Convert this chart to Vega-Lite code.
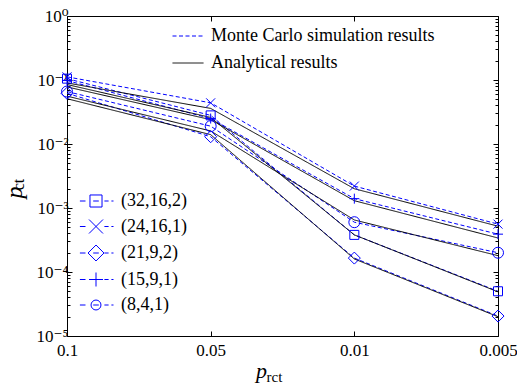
{
  "$schema": "https://vega.github.io/schema/vega-lite/v6.json",
  "width": 431,
  "height": 320,
  "autosize": {"type": "none"},
  "padding": {"left": 67, "top": 16, "right": 19, "bottom": 52},
  "background": "white",
  "config": {
    "view": {"stroke": "black", "strokeWidth": 1},
    "font": "Times New Roman, Liberation Serif, DejaVu Serif, serif",
    "axis": {"grid": false, "domain": false, "tickColor": "black", "labelColor": "black", "titleColor": "black", "titleFontWeight": "normal", "labelFont": "Times New Roman, Liberation Serif, DejaVu Serif, serif", "titleFont": "Times New Roman, Liberation Serif, DejaVu Serif, serif"},
    "legend": {"labelFont": "Times New Roman, Liberation Serif, DejaVu Serif, serif", "labelColor": "black"}
  },
  "data": {
    "values": [
      {"config": "(32,16,2)", "type": "Monte Carlo simulation results", "prct": "0.1", "pct": 0.105},
      {"config": "(32,16,2)", "type": "Monte Carlo simulation results", "prct": "0.05", "pct": 0.028},
      {"config": "(32,16,2)", "type": "Monte Carlo simulation results", "prct": "0.01", "pct": 0.00038},
      {"config": "(32,16,2)", "type": "Monte Carlo simulation results", "prct": "0.005", "pct": 0.00005},
      {"config": "(24,16,1)", "type": "Monte Carlo simulation results", "prct": "0.1", "pct": 0.112},
      {"config": "(24,16,1)", "type": "Monte Carlo simulation results", "prct": "0.05", "pct": 0.044},
      {"config": "(24,16,1)", "type": "Monte Carlo simulation results", "prct": "0.01", "pct": 0.0022},
      {"config": "(24,16,1)", "type": "Monte Carlo simulation results", "prct": "0.005", "pct": 0.00056},
      {"config": "(21,9,2)", "type": "Monte Carlo simulation results", "prct": "0.1", "pct": 0.062},
      {"config": "(21,9,2)", "type": "Monte Carlo simulation results", "prct": "0.05", "pct": 0.013},
      {"config": "(21,9,2)", "type": "Monte Carlo simulation results", "prct": "0.01", "pct": 0.000165},
      {"config": "(21,9,2)", "type": "Monte Carlo simulation results", "prct": "0.005", "pct": 0.0000205},
      {"config": "(15,9,1)", "type": "Monte Carlo simulation results", "prct": "0.1", "pct": 0.098},
      {"config": "(15,9,1)", "type": "Monte Carlo simulation results", "prct": "0.05", "pct": 0.025},
      {"config": "(15,9,1)", "type": "Monte Carlo simulation results", "prct": "0.01", "pct": 0.0014},
      {"config": "(15,9,1)", "type": "Monte Carlo simulation results", "prct": "0.005", "pct": 0.00039},
      {"config": "(8,4,1)", "type": "Monte Carlo simulation results", "prct": "0.1", "pct": 0.066},
      {"config": "(8,4,1)", "type": "Monte Carlo simulation results", "prct": "0.05", "pct": 0.019},
      {"config": "(8,4,1)", "type": "Monte Carlo simulation results", "prct": "0.01", "pct": 0.0006},
      {"config": "(8,4,1)", "type": "Monte Carlo simulation results", "prct": "0.005", "pct": 0.0002},
      {"config": "(32,16,2)", "type": "Analytical results", "prct": "0.1", "pct": 0.085},
      {"config": "(32,16,2)", "type": "Analytical results", "prct": "0.05", "pct": 0.026},
      {"config": "(32,16,2)", "type": "Analytical results", "prct": "0.01", "pct": 0.00038},
      {"config": "(32,16,2)", "type": "Analytical results", "prct": "0.005", "pct": 0.000049},
      {"config": "(24,16,1)", "type": "Analytical results", "prct": "0.1", "pct": 0.09},
      {"config": "(24,16,1)", "type": "Analytical results", "prct": "0.05", "pct": 0.036},
      {"config": "(24,16,1)", "type": "Analytical results", "prct": "0.01", "pct": 0.002},
      {"config": "(24,16,1)", "type": "Analytical results", "prct": "0.005", "pct": 0.00052},
      {"config": "(21,9,2)", "type": "Analytical results", "prct": "0.1", "pct": 0.051},
      {"config": "(21,9,2)", "type": "Analytical results", "prct": "0.05", "pct": 0.014},
      {"config": "(21,9,2)", "type": "Analytical results", "prct": "0.01", "pct": 0.00016},
      {"config": "(21,9,2)", "type": "Analytical results", "prct": "0.005", "pct": 0.00002},
      {"config": "(15,9,1)", "type": "Analytical results", "prct": "0.1", "pct": 0.078},
      {"config": "(15,9,1)", "type": "Analytical results", "prct": "0.05", "pct": 0.024},
      {"config": "(15,9,1)", "type": "Analytical results", "prct": "0.01", "pct": 0.0013},
      {"config": "(15,9,1)", "type": "Analytical results", "prct": "0.005", "pct": 0.00034},
      {"config": "(8,4,1)", "type": "Analytical results", "prct": "0.1", "pct": 0.056},
      {"config": "(8,4,1)", "type": "Analytical results", "prct": "0.05", "pct": 0.016},
      {"config": "(8,4,1)", "type": "Analytical results", "prct": "0.01", "pct": 0.00065},
      {"config": "(8,4,1)", "type": "Analytical results", "prct": "0.005", "pct": 0.00018}
    ]
  },
  "layer": [
    {
      "mark": {"type": "line", "strokeWidth": 1},
      "encoding": {
        "x": {"field": "prct", "type": "ordinal", "scale": {"type": "point", "padding": 0, "domain": ["0.1", "0.05", "0.01", "0.005"]},
          "axis": {"orient": "bottom", "tickSize": -5, "labelFontSize": 17, "labelAngle": 0, "labelPadding": 11,
            "title": "p", "titleFontStyle": "italic", "titleFontSize": 22, "titleX": 194, "titleY": 41, "titleAlign": "center", "titleBaseline": "alphabetic"}},
        "y": {"field": "pct", "type": "quantitative", "scale": {"type": "log", "domain": [0.00001, 1], "nice": false},
          "axis": {"orient": "left", "values": [0.00001, 0.0001, 0.001, 0.01, 0.1, 1], "tickSize": -5, "labelFontSize": 17, "labelPadding": 4,
            "labelExpr": "datum.value >= 0.5 ? '10⁰' : datum.value >= 0.05 ? '10⁻¹' : datum.value >= 0.005 ? '10⁻²' : datum.value >= 0.0005 ? '10⁻³' : datum.value >= 0.00005 ? '10⁻⁴' : '10⁻⁵'",
            "title": "p", "titleFontStyle": "italic", "titleFontSize": 24, "titleAngle": 270, "titleX": -46, "titleY": 176, "titleAlign": "center", "titleBaseline": "alphabetic"}},
        "stroke": {"field": "type", "type": "nominal", "scale": {"domain": ["Monte Carlo simulation results", "Analytical results"], "range": ["#0000ff", "#000000"]},
          "legend": {"orient": "none", "legendX": 105, "legendY": 4, "title": null, "symbolType": "stroke", "symbolSize": 961, "symbolStrokeWidth": 1, "labelFontSize": 18, "labelOffset": 7, "labelLimit": 0, "rowPadding": 2, "padding": 0}},
        "strokeDash": {"field": "type", "type": "nominal", "scale": {"domain": ["Monte Carlo simulation results", "Analytical results"], "range": [[4, 2.5], [1, 0]]},
          "legend": {"orient": "none", "legendX": 105, "legendY": 4, "title": null, "symbolType": "stroke", "symbolSize": 961, "symbolStrokeWidth": 1, "labelFontSize": 18, "labelOffset": 7, "labelLimit": 0, "rowPadding": 2, "padding": 0}},
        "detail": {"field": "config", "type": "nominal"}
      }
    },
    {
      "transform": [{"filter": "datum.type === 'Monte Carlo simulation results'"}],
      "mark": {"type": "point", "filled": false, "color": "#0000ff", "strokeWidth": 1, "size": 100, "opacity": 1},
      "encoding": {
        "x": {"field": "prct", "type": "ordinal", "axis": {"orient": "top", "tickSize": -5, "labels": false, "title": null}},
        "y": {"field": "pct", "type": "quantitative", "axis": {"orient": "right", "values": [0.00001, 0.0001, 0.001, 0.01, 0.1, 1], "tickSize": -5, "labels": false, "title": null}},
        "shape": {"field": "config", "type": "nominal",
          "scale": {"domain": ["(32,16,2)", "(24,16,1)", "(21,9,2)", "(15,9,1)", "(8,4,1)"],
            "range": [
              "M-0.9,-0.9H0.9V0.9H-0.9Z",
              "M-0.9,-0.9L0.9,0.9M-0.9,0.9L0.9,-0.9",
              "M0,-1.2L1.2,0L0,1.2L-1.2,0Z",
              "M0,-1V1M-1,0H1",
              "M1.1,0A1.1,1.1,0,1,1,-1.1,0A1.1,1.1,0,1,1,1.1,0Z"
            ]},
          "legend": null}
      }
    },
    {
      "data": {"values": []},
      "mark": {"type": "point", "filled": false, "color": "#0000ff", "strokeWidth": 1, "opacity": 1},
      "encoding": {
        "x": {"field": "prct", "type": "ordinal", "axis": {"orient": "bottom", "ticks": false, "labels": false,
          "title": "rct", "titleFontSize": 15, "titleX": 207, "titleY": 45, "titleAlign": "center", "titleBaseline": "alphabetic"}},
        "y": {"field": "pct", "type": "quantitative", "axis": {"orient": "left", "tickSize": -3, "labels": false,
          "values": [0.00002, 0.00003, 0.00004, 0.00005, 0.00006, 0.00007, 0.00008, 0.00009, 0.0002, 0.0003, 0.0004, 0.0005, 0.0006, 0.0007, 0.0008, 0.0009, 0.002, 0.003, 0.004, 0.005, 0.006, 0.007, 0.008, 0.009, 0.02, 0.03, 0.04, 0.05, 0.06, 0.07, 0.08, 0.09, 0.2, 0.3, 0.4, 0.5, 0.6, 0.7, 0.8, 0.9],
          "title": "ct", "titleFontSize": 16, "titleAngle": 270, "titleX": -44, "titleY": 168, "titleAlign": "center", "titleBaseline": "alphabetic"}},
        "shape": {"field": "config", "type": "nominal",
          "scale": {"domain": ["(32,16,2)", "(24,16,1)", "(21,9,2)", "(15,9,1)", "(8,4,1)"],
            "range": [
              "M-2.3,0H-1.5M-0.86,-0.86H0.86V0.86H-0.86ZM-0.4,0H0.4M1.2,0H1.8M2.2,0H2.5",
              "M-2.3,0H-1.5M-1,-1L1,1M-1,1L1,-1M1.2,0H1.8M2.2,0H2.5",
              "M-2.3,0H-1.5M0,-1.14L1.14,0L0,1.14L-1.14,0ZM-0.4,0H0.4M1.2,0H1.8M2.2,0H2.5",
              "M-2.3,0H-1.5M0,-1V1M-1,0H1M1.2,0H1.8M2.2,0H2.5",
              "M-2.3,0H-1.5M0.71,0A0.71,0.71,0,1,1,-0.71,0A0.71,0.71,0,1,1,0.71,0ZM-0.4,0H0.4M1.2,0H1.8M2.2,0H2.5"
            ]},
          "legend": {"orient": "none", "legendX": 20, "legendY": 176, "title": null, "symbolSize": 196, "symbolStrokeWidth": 1, "symbolStrokeColor": "#0000ff", "symbolFillColor": "transparent", "labelFontSize": 18, "labelOffset": 16, "rowPadding": 7.5, "padding": 0}}
      }
    },
    {
      "data": {"values": []},
      "mark": {"type": "point", "filled": false, "opacity": 1},
      "encoding": {
        "x": {"field": "prct", "type": "ordinal", "axis": null},
        "y": {"field": "pct", "type": "quantitative", "axis": {"orient": "right", "tickSize": -3, "labels": false, "title": null,
          "values": [0.00002, 0.00003, 0.00004, 0.00005, 0.00006, 0.00007, 0.00008, 0.00009, 0.0002, 0.0003, 0.0004, 0.0005, 0.0006, 0.0007, 0.0008, 0.0009, 0.002, 0.003, 0.004, 0.005, 0.006, 0.007, 0.008, 0.009, 0.02, 0.03, 0.04, 0.05, 0.06, 0.07, 0.08, 0.09, 0.2, 0.3, 0.4, 0.5, 0.6, 0.7, 0.8, 0.9]}}
      }
    }
  ],
  "resolve": {"axis": {"x": "independent", "y": "independent"}, "scale": {"shape": "independent"}}
}
